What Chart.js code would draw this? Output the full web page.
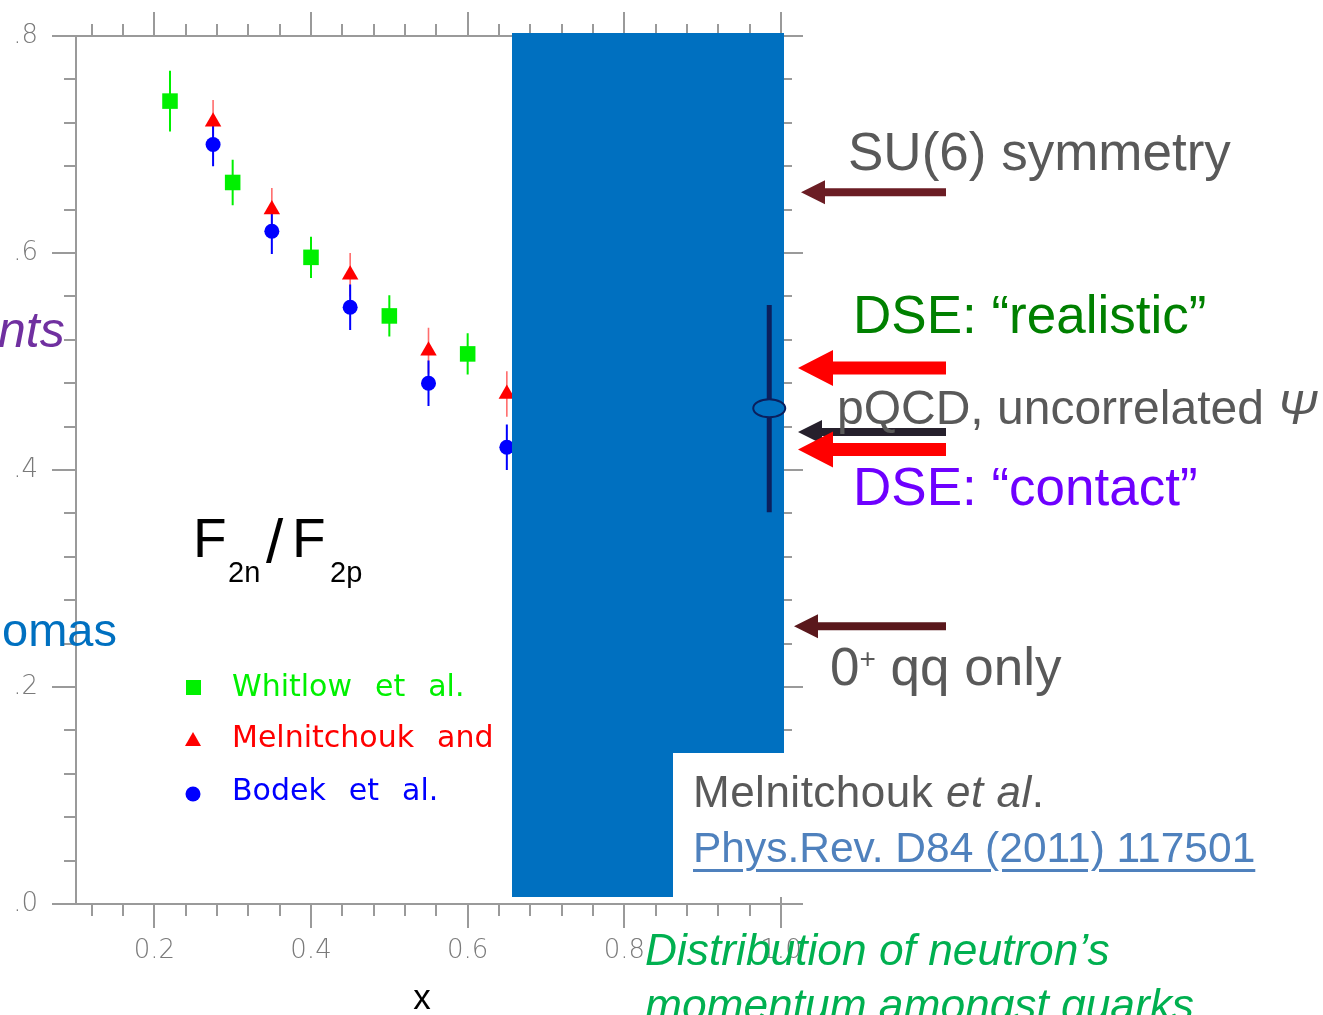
<!DOCTYPE html>
<html><head><meta charset="utf-8">
<script src="https://cdn.jsdelivr.net/npm/chart.js@4.4.1/dist/chart.umd.min.js"></script>
<style>
html,body{margin:0;padding:0;background:#fff;overflow:hidden;}
#wrap{position:relative;width:1323px;height:1015px;overflow:hidden;background:#fff;}
#wrap canvas{position:absolute;left:0;top:0;}
.t{position:absolute;white-space:nowrap;font-family:"Liberation Sans",Arial,sans-serif;line-height:1;z-index:2;}
</style></head><body>
<div id="wrap"><canvas id="c" width="1323" height="1015"></canvas></div>
<script>
// ---------- data ----------
const xTickLabels = ['0.2', '0.4', '0.6', '0.8', '1.0'];
const yTickLabels = ['.0', '.2', '.4', '.6', '.8'];
const xTitle = 'x';

const whitlowLabel = 'Whitlow et al.';
const whitlowX   = [0.22, 0.30, 0.40, 0.50, 0.60];
const whitlowY   = [0.740, 0.665, 0.596, 0.542, 0.507];
const whitlowErr = [0.028, 0.021, 0.019, 0.019, 0.019];

const melnLabel = 'Melnitchouk and';
const melnX   = [0.275, 0.35, 0.45, 0.55, 0.65];
const melnY   = [0.721, 0.640, 0.580, 0.510, 0.470];
const melnErr = [0.020, 0.020, 0.020, 0.021, 0.021];

const bodekLabel = 'Bodek et al.';
const bodekX   = [0.275, 0.35, 0.45, 0.55, 0.65];
const bodekY   = [0.700, 0.620, 0.550, 0.480, 0.421];
const bodekErr = [0.020, 0.021, 0.021, 0.021, 0.021];

// annotation arrows (value on the y axis they point to)
const arrowValues = [0.656, 0.494, 0.435, 0.419, 0.256];
// vertical band near x = 1
const bandX = 0.985, bandLo = 0.361, bandMid = 0.457, bandHi = 0.552;

// ---------- helpers ----------
const AX = '#9a9a9a';
function pts(xs, ys){ return xs.map((v,i)=>({x:v, y:ys[i]})); }

const framePlugin = {
  id: 'frame',
  beforeDatasetsDraw(chart){
    const {ctx, chartArea:a, scales:{x, y}} = chart;
    ctx.save();
    ctx.strokeStyle = AX; ctx.lineWidth = 2; ctx.lineCap = 'butt';
    ctx.beginPath();
    ctx.moveTo(a.left, a.top); ctx.lineTo(a.left, a.bottom);
    ctx.moveTo(a.right, a.top); ctx.lineTo(a.right, a.bottom);
    ctx.moveTo(a.left - 24, a.bottom); ctx.lineTo(a.right + 22, a.bottom);
    ctx.moveTo(a.left - 24, a.top); ctx.lineTo(a.right + 22, a.top);
    for (let i = 3; i <= 25; i++){
      const px = Math.round(x.getPixelForValue(i * 0.04));
      const L = (i % 5 === 0) ? 24 : 12;
      ctx.moveTo(px, a.top); ctx.lineTo(px, a.top - L);
      ctx.moveTo(px, a.bottom); ctx.lineTo(px, a.bottom + L);
    }
    for (let i = 0; i <= 20; i++){
      const py = Math.round(y.getPixelForValue(i * 0.04));
      const major = (i % 5 === 0);
      ctx.moveTo(a.left, py); ctx.lineTo(a.left - (major ? 24 : 12), py);
      ctx.moveTo(a.right, py); ctx.lineTo(a.right + (major ? 22 : 11), py);
    }
    ctx.stroke();

    // tick labels
    ctx.fillStyle = '#7a7a7a';
    ctx.font = '200 26px "DejaVu Sans"';
    ctx.textAlign = 'center'; ctx.textBaseline = 'alphabetic';
    xTickLabels.forEach(l => ctx.fillText(l, x.getPixelForValue(parseFloat(l)), 958));
    ctx.textAlign = 'right'; ctx.textBaseline = 'middle';
    yTickLabels.forEach(l => ctx.fillText(l, 38, y.getPixelForValue(parseFloat(l))));

    // axis title
    ctx.fillStyle = '#000'; ctx.textAlign = 'center'; ctx.textBaseline = 'alphabetic';
    ctx.font = '35px "Liberation Sans", Arial';
    ctx.fillText(xTitle, 422, 1009);

    // F2n/F2p
    ctx.textAlign = 'left';
    ctx.font = '55px "Liberation Sans", Arial';
    ctx.fillText('F', 193, 557);
    ctx.fillText('F', 292, 557);
    ctx.font = '62px "Liberation Sans", Arial';
    ctx.fillText('/', 266, 562);
    ctx.font = '29px "Liberation Sans", Arial';
    ctx.fillText('2n', 228, 582);
    ctx.fillText('2p', 330, 582);

    // error bars
    chart.data.datasets.forEach(ds => {
      ctx.strokeStyle = ds.errColor; ctx.lineWidth = ds.errWidth;
      ctx.beginPath();
      ds.data.forEach((p, i) => {
        const px = x.getPixelForValue(p.x);
        ctx.moveTo(px, y.getPixelForValue(p.y + ds.errors[i]));
        ctx.lineTo(px, y.getPixelForValue(p.y - ds.errors[i]));
      });
      ctx.stroke();
    });

    // legend
    const rows = [
      {ds: 0, y: 696, my: 687},
      {ds: 1, y: 747, my: 741},
      {ds: 2, y: 800, my: 794}
    ];
    ctx.font = '30px "DejaVu Sans"';
    rows.forEach(r => {
      const ds = chart.data.datasets[r.ds];
      ctx.fillStyle = ds.textColor;
      let xx = 232;
      ds.label.split(' ').forEach(w => { ctx.fillText(w, xx, r.y); xx += ctx.measureText(w).width + 23; });
      ctx.fillStyle = ds.pointBackgroundColor;
      ctx.beginPath();
      if (ds.pointStyle === 'rect') { ctx.rect(186, r.my - 7, 15, 15); }
      else if (ds.pointStyle === 'triangle') { ctx.moveTo(193, r.my - 9); ctx.lineTo(201, r.my + 5); ctx.lineTo(185, r.my + 5); ctx.closePath(); }
      else { ctx.arc(193, r.my, 7.5, 0, Math.PI * 2); }
      ctx.fill();
    });
    ctx.restore();
  },
  afterDraw(chart){
    const {ctx, scales:{x, y}} = chart;
    ctx.save();
    // white text box
    ctx.fillStyle = '#fff';
    ctx.fillRect(673, 753, 600, 144);
    // blue box
    ctx.fillStyle = '#0070C0';
    ctx.beginPath();
    ctx.moveTo(512, 33); ctx.lineTo(784, 33); ctx.lineTo(784, 753);
    ctx.lineTo(673, 753); ctx.lineTo(673, 897); ctx.lineTo(512, 897); ctx.closePath();
    ctx.fill();
    // navy band
    const bx = x.getPixelForValue(bandX);
    ctx.strokeStyle = '#0B1F5C'; ctx.lineWidth = 5;
    ctx.beginPath();
    ctx.moveTo(bx, y.getPixelForValue(bandHi)); ctx.lineTo(bx, y.getPixelForValue(bandLo));
    ctx.stroke();
    ctx.fillStyle = '#0070C0'; ctx.lineWidth = 2;
    ctx.beginPath();
    ctx.ellipse(bx, y.getPixelForValue(bandMid), 16, 9, 0, 0, Math.PI * 2);
    ctx.fill(); ctx.stroke();

    function arrow(v, tip, shaft, headW, headL, color){
      const yy = y.getPixelForValue(v);
      const tail = 946;
      ctx.fillStyle = color;
      ctx.beginPath();
      ctx.moveTo(tail, yy - shaft/2);
      ctx.lineTo(tip + headL, yy - shaft/2);
      ctx.lineTo(tip + headL, yy - headW/2);
      ctx.lineTo(tip, yy);
      ctx.lineTo(tip + headL, yy + headW/2);
      ctx.lineTo(tip + headL, yy + shaft/2);
      ctx.lineTo(tail, yy + shaft/2);
      ctx.closePath(); ctx.fill();
    }
    arrow(arrowValues[0], 801, 8, 24, 24, '#6B1D24');
    arrow(arrowValues[1], 798, 13, 36, 35, '#FF0000');
    arrow(arrowValues[2], 798, 8, 24, 24, '#26202C');
    arrow(arrowValues[3], 798, 13, 36, 35, '#FF0000');
    arrow(arrowValues[4], 794, 8, 24, 24, '#5A181C');
    ctx.restore();
  }
};

const chart = new Chart(document.getElementById('c'), {
  type: 'scatter',
  data: {
    datasets: [
      {label: whitlowLabel, data: pts(whitlowX, whitlowY), errors: whitlowErr,
       pointStyle: 'rect', pointRadius: 11, pointBackgroundColor: '#00F000', pointBorderWidth: 0,
       backgroundColor: '#00F000', borderColor: '#00F000', errColor: '#00F000', errWidth: 2, textColor: '#00F000'},
      {label: melnLabel, data: pts(melnX, melnY), errors: melnErr,
       pointStyle: 'triangle', pointRadius: 9.5, pointBackgroundColor: '#FF0000', pointBorderWidth: 0,
       backgroundColor: '#FF0000', borderColor: '#FF0000', errColor: 'rgba(255,60,60,0.75)', errWidth: 1.6, textColor: '#FF0000'},
      {label: bodekLabel, data: pts(bodekX, bodekY), errors: bodekErr,
       pointStyle: 'circle', pointRadius: 7.5, pointBackgroundColor: '#0000FF', pointBorderWidth: 0,
       backgroundColor: '#0000FF', borderColor: '#0000FF', errColor: '#0000FF', errWidth: 2, textColor: '#0000FF'}
    ]
  },
  options: {
    responsive: false,
    animation: false,
    events: [],
    layout: {padding: {left: 76, top: 36, right: 1323 - 781, bottom: 1015 - 904}},
    scales: {
      x: {type: 'linear', min: 0.1, max: 1.0, display: false},
      y: {type: 'linear', min: 0, max: 0.8, display: false}
    },
    plugins: {legend: {display: false}, tooltip: {enabled: false}},
    clip: false
  },
  plugins: [framePlugin]
});

// ---------- slide text ----------
const wrap = document.getElementById('wrap');
function put(html, x, base, size, color, extra){
  const d = document.createElement('div');
  d.className = 't';
  d.style.left = x + 'px';
  d.style.top = (base - 0.8465 * size) + 'px';
  d.style.fontSize = size + 'px';
  d.style.color = color;
  if (extra) Object.assign(d.style, extra);
  d.innerHTML = html;
  wrap.appendChild(d);
}
put('SU(6) symmetry', 848, 170, 53, '#595959');
put('DSE: “realistic”', 853, 333, 53, '#008000');
put('pQCD, uncorrelated <i>Ψ</i>', 837, 425, 48, '#595959');
put('DSE: “contact”', 853, 505, 53, '#6E00FF');
put('0<span style="font-size:28px;position:relative;top:-17px;">+</span> qq only', 830, 685, 53, '#595959');
put('Melnitchouk <i>et al</i>.', 693, 807, 44, '#595959', {letterSpacing: '0.5px'});
put('<span style="text-decoration:underline;text-decoration-thickness:3px;text-underline-offset:7px;">Phys.Rev. D84 (2011) 117501</span>', 693, 863, 42.5, '#4F81BD');
put('<i>Distribution of neutron’s</i>', 645, 965, 44.3, '#00B050');
put('<i>momentum amongst quarks</i>', 645, 1020, 44.3, '#00B050');
put('<i>nts</i>', -2, 347, 50, '#7030A0');
put('omas', 2, 646, 47, '#0070C0');
</script>
</body></html>
